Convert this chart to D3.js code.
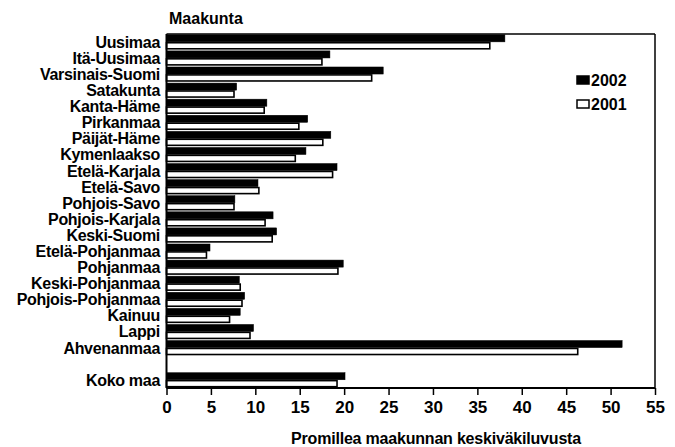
<!DOCTYPE html>
<html><head><meta charset="utf-8">
<script src="https://cdn.jsdelivr.net/npm/d3@7"></script>
<style>
body{margin:0;background:#fff;}
text{font-family:"Liberation Sans",Arial,sans-serif;font-weight:bold;fill:#000;}
</style></head><body>
<svg id="c" width="675" height="447"></svg>
<script>
const categories = ["Uusimaa","Itä-Uusimaa","Varsinais-Suomi","Satakunta","Kanta-Häme","Pirkanmaa","Päijät-Häme","Kymenlaakso","Etelä-Karjala","Etelä-Savo","Pohjois-Savo","Pohjois-Karjala","Keski-Suomi","Etelä-Pohjanmaa","Pohjanmaa","Keski-Pohjanmaa","Pohjois-Pohjanmaa","Kainuu","Lappi","Ahvenanmaa","","Koko maa"];
const values2002 = [38.1,18.4,24.4,7.9,11.3,15.9,18.5,15.7,19.2,10.3,7.7,12.0,12.4,4.9,19.9,8.2,8.8,8.3,9.8,51.3,null,20.1];
const values2001 = [36.4,17.5,23.1,7.6,11.0,14.9,17.6,14.5,18.7,10.4,7.6,11.1,11.9,4.5,19.3,8.3,8.5,7.1,9.4,46.3,null,19.2];
const series = ["2002","2001"];
const xTicks = [0,5,10,15,20,25,30,35,40,45,50,55];

const svg = d3.select("#c");
const m = {l:166.5, r:655, t:34, b:388};
const x = d3.scaleLinear().domain([0,55]).range([m.l, m.r]);
const y = d3.scaleBand().domain(d3.range(categories.length)).range([m.t, m.b]).padding(0);
const ys = d3.scaleBand().domain(series).range([0.8, y.bandwidth()-0.8]).paddingInner(0.05);

const rows = categories.map((c,i)=>({c,i,v:[values2002[i],values2001[i]]}));

// bars
const g = svg.append("g");
rows.forEach(r=>{
  if(r.c==="") return;
  series.forEach((s,k)=>{
    const v = r.v[k];
    g.append("rect")
      .attr("x", x(0))
      .attr("y", y(r.i)+ys(s) + (k===1?0.5:0))
      .attr("width", x(v)-x(0))
      .attr("height", ys.bandwidth() - (k===1?1:0))
      .attr("fill", k===0?"#000":"#fff")
      .attr("stroke", "#000")
      .attr("stroke-width", k===0?0.5:1.6);
  });
});

// frame
svg.append("line").attr("x1",m.l).attr("x2",m.r).attr("y1",m.t).attr("y2",m.t).attr("stroke","#000").attr("stroke-width",1.5);
svg.append("line").attr("x1",m.r).attr("x2",m.r).attr("y1",m.t).attr("y2",m.b).attr("stroke","#000").attr("stroke-width",1.5);
svg.append("line").attr("x1",m.l).attr("x2",m.l).attr("y1",m.t).attr("y2",m.b).attr("stroke","#000").attr("stroke-width",2);

// x axis
const ax = svg.append("g").attr("transform",`translate(0,${m.b})`)
  .call(d3.axisBottom(x).tickValues(xTicks).tickSize(7).tickPadding(6).tickFormat(d3.format("d")));
ax.select(".domain").attr("stroke","#000").attr("stroke-width",2).attr("d",`M${m.l},0H${m.r}`);
ax.selectAll(".tick line").attr("stroke","#000").attr("stroke-width",1.5);
ax.selectAll(".tick text").style("font-size","17px").style("font-family",null).attr("dy","0.72em");

// category labels
svg.append("g").selectAll("text").data(rows.filter(r=>r.c!=="")).join("text")
  .attr("x", 160).attr("y", r=>y(r.i)+y.bandwidth()/2)
  .attr("dy","0.36em").attr("text-anchor","end")
  .style("font-size","16px").style("letter-spacing","-0.3px").text(r=>r.c);

// titles
svg.append("text").attr("x",169).attr("y",24).style("font-size","16px").text("Maakunta");
svg.append("text").attr("x",436).attr("y",444).attr("text-anchor","middle")
  .style("font-size","16px").style("letter-spacing","-0.2px").text("Promillea maakunnan keskiväkiluvusta");

// legend
const lg = svg.append("g");
series.forEach((s,k)=>{
  const yy = 80 + k*24;
  lg.append("rect").attr("x",577).attr("y",yy-4).attr("width",12).attr("height",8)
    .attr("fill",k===0?"#000":"#fff").attr("stroke","#000").attr("stroke-width",1.5);
  lg.append("text").attr("x",591).attr("y",yy).attr("dy","0.36em").style("font-size","16px").text(s);
});
</script>
</body></html>
